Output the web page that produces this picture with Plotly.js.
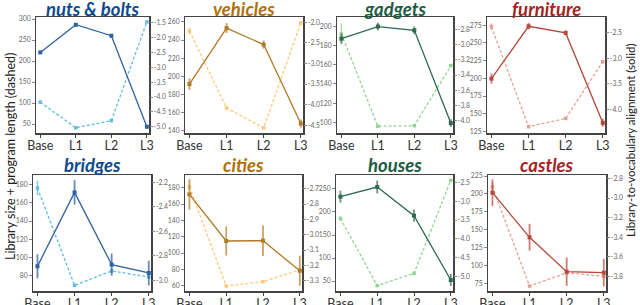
<!DOCTYPE html>
<html><head><meta charset="utf-8">
<script src="https://cdn.plot.ly/plotly-3.0.1.min.js"></script>
<style>html,body{margin:0;padding:0;background:#fff}#chart{width:640px;height:305px}</style>
</head><body><div id="chart"></div>
<script>
const categories = ['Base','L1','L2','L3'];
const panelTitles = ['nuts & bolts','vehicles','gadgets','furniture','bridges','cities','houses','castles'];

// solid: library-to-vocabulary alignment (right axis); dashed: library size + program length (left axis)
const nutsSolid = [-2.50, -1.57, -1.94, -5.00];
const nutsSolidErr = [0.05, 0.05, 0.05, 0.05];
const nutsDashed = [102, 41, 58, 293];
const nutsDashedErr = [2, 2, 2, 2];

const vehiclesSolid = [-3.50, -2.14, -2.54, -4.46];
const vehiclesSolidErr = [0.14, 0.12, 0.10, 0.10];
const vehiclesDashed = [250, 165, 143, 259];
const vehiclesDashedErr = [4, 2, 1, 2];

const gadgetsSolid = [-2.92, -2.76, -2.81, -4.035];
const gadgetsSolidErr = [0.065, 0.05, 0.05, 0.05];
const gadgetsDashed = [192, 96, 96.6, 159];
const gadgetsDashedErr = [11, 1, 1, 1];

const furnitureSolid = [-3.40, -2.37, -2.50, -4.27];
const furnitureSolidErr = [0.10, 0.065, 0.05, 0.08];
const furnitureDashed = [273, 131.6, 143.3, 223.4];
const furnitureDashedErr = [5, 2, 2, 2];

const bridgesSolid = [-2.885, -2.282, -2.872, -2.94];
const bridgesSolidErr = [0.098, 0.10, 0.09, 0.10];
const bridgesDashed = [176, 69.8, 85.5, 78.9];
const bridgesDashedErr = [8, 1, 3, 2];

const citiesSolid = [-2.737, -3.041, -3.039, -3.235];
const citiesSolidErr = [0.10, 0.095, 0.10, 0.098];
const citiesDashed = [181, 59.6, 65, 79.2];
const citiesDashedErr = [2, 1, 1, 1];

const housesSolid = [-2.88, -2.624, -3.383, -5.088];
const housesSolidErr = [0.16, 0.17, 0.16, 0.16];
const housesDashed = [186, 40, 66.7, 268.8];
const housesDashedErr = [4, 1, 1, 1];

const castlesSolid = [-2.946, -3.40, -3.749, -3.759];
const castlesSolidErr = [0.136, 0.137, 0.144, 0.14];
const castlesDashed = [210, 71.3, 89.8, 85.1];
const castlesDashedErr = [6, 1, 1, 1];

const solidSeries = [nutsSolid, vehiclesSolid, gadgetsSolid, furnitureSolid, bridgesSolid, citiesSolid, housesSolid, castlesSolid];
const solidErrs = [nutsSolidErr, vehiclesSolidErr, gadgetsSolidErr, furnitureSolidErr, bridgesSolidErr, citiesSolidErr, housesSolidErr, castlesSolidErr];
const dashedSeries = [nutsDashed, vehiclesDashed, gadgetsDashed, furnitureDashed, bridgesDashed, citiesDashed, housesDashed, castlesDashed];
const dashedErrs = [nutsDashedErr, vehiclesDashedErr, gadgetsDashedErr, furnitureDashedErr, bridgesDashedErr, citiesDashedErr, housesDashedErr, castlesDashedErr];

// tick values of each panel's axes
const leftTicks = [
  [50,100,150,200,250,300],[140,160,180,200,220,240,260],[100,120,140,160,180,200],[125,150,175,200,225,250,275],
  [80,100,120,140,160,180],[60,80,100,120,140,160,180],[50,100,150,200,250],[75,100,125,150,175,200,225]
];
const rightTicks = [
  [-1.5,-2.0,-2.5,-3.0,-3.5,-4.0,-4.5,-5.0],[-2.0,-2.5,-3.0,-3.5,-4.0,-4.5],[-2.8,-3.0,-3.2,-3.4,-3.6,-3.8,-4.0],[-2.5,-3.0,-3.5,-4.0],
  [-2.2,-2.4,-2.6,-2.8,-3.0],[-2.7,-2.8,-2.9,-3.0,-3.1,-3.2,-3.3],[-2.5,-3.0,-3.5,-4.0,-4.5,-5.0],[-2.8,-3.0,-3.2,-3.4,-3.6,-3.8]
];

// styling
const titleColors = ['#0d4a8c','#b26f0c','#1b5c45','#a5241f'];
const solidColors = ['#2f63a0','#b07a26','#2e6a50','#b5473b'];
const dashedColors = ['#62bde0','#fdc878','#92d392','#e4a094'];
const errSolid = ['rgba(47,99,160,0.75)','rgba(176,122,38,0.7)','rgba(46,106,80,0.7)','rgba(181,71,59,0.7)'];
const errDashed = ['rgba(98,189,224,0.8)','rgba(253,200,120,0.8)','rgba(146,211,146,0.8)','rgba(228,160,148,0.8)'];

const W = 640, H = 305;
const boxes = [
  [36,149,17,133],[185,303,17,133],[337,453,17,133],[487,605,17,133],
  [33,151,175,291],[185,302,175,291],[336,453,175,291],[488,606,175,291]
];
const leftRanges = [[28.6,304.8],[137.4,265.5],[89,209.6],[122.7,286.7],[63.6,190.2],[53.5,195.5],[28.3,280.4],[64.4,226.5]];
const rightRanges = [[-5.21,-1.31],[-4.69,-1.87],[-4.166,-2.634],[-4.47,-2.187],[-3.087,-2.14],[-3.367,-2.611],[-5.38,-2.306],[-3.946,-2.766]];

const FONT = 'Lato, Noto Sans, sans-serif';
const traces = [];
const layout = {
  width: W, height: H, margin: {l:0,r:0,t:0,b:0},
  paper_bgcolor: '#fff', plot_bgcolor: '#fff', showlegend: false,
  font: {family: FONT}, annotations: []
};
const tickFont = {family: FONT, size: 6.8, color: '#666'};

for (let i = 0; i < 8; i++) {
  const c = i % 4;
  const n = i + 1;
  const xs = n === 1 ? '' : String(n);
  const b = boxes[i];
  const xd = [b[0]/W, b[1]/W];
  const yd = [1 - b[3]/H, 1 - b[2]/H];
  layout['xaxis' + xs] = {
    domain: xd, anchor: 'y' + xs, range: [-0.12, 3.06], type: 'linear',
    tickvals: [0,1,2,3], ticktext: categories,
    showline: true, mirror: true, linecolor: '#444', linewidth: 1.5,
    ticks: 'outside', ticklen: 3, tickcolor: '#444', showgrid: false, zeroline: false,
    tickfont: {family: FONT, size: 12.5, color: '#333'}, ticklabelstandoff: -3, fixedrange: true
  };
  layout['yaxis' + xs] = {
    domain: yd, anchor: 'x' + xs, range: leftRanges[i],
    tickvals: leftTicks[i], ticktext: leftTicks[i].map(v => String(v)),
    showline: true, mirror: true, linecolor: '#444', linewidth: 1.5,
    ticks: 'outside', ticklen: 2.5, tickcolor: '#888', showgrid: false, zeroline: false,
    tickfont: tickFont, ticklabelstandoff: 0
  };
  const rn = i + 9;
  layout['yaxis' + rn] = {
    overlaying: 'y' + xs, anchor: 'x' + xs, side: 'right',
    range: rightRanges[i], tickvals: rightTicks[i], ticktext: rightTicks[i].map(v => v.toFixed(1)),
    showline: false, ticks: 'outside', ticklen: 2.5, tickcolor: '#888',
    showgrid: false, zeroline: false, tickfont: tickFont, ticklabelstandoff: 0
  };
  traces.push({
    x: [0,1,2,3], y: dashedSeries[i], xaxis: 'x' + xs, yaxis: 'y' + xs,
    type: 'scatter', mode: 'lines+markers',
    line: {color: dashedColors[c], width: 1.3, dash: '3px,2px'},
    marker: {color: dashedColors[c], size: 3.5, symbol: 'square'},
    error_y: {type: 'data', array: dashedErrs[i], visible: true, color: errDashed[c], thickness: 1.5, width: 0}
  });
  traces.push({
    x: [0,1,2,3], y: solidSeries[i], xaxis: 'x' + xs, yaxis: 'y' + rn,
    type: 'scatter', mode: 'lines+markers',
    line: {color: solidColors[c], width: 1.3},
    marker: {color: solidColors[c], size: 4, symbol: 'square'},
    error_y: {type: 'data', array: solidErrs[i], visible: true, color: errSolid[c], thickness: 1.8, width: 0}
  });
  layout.annotations.push({
    text: '<b><i>' + panelTitles[i].replace('&','&amp;') + '</i></b>',
    xref: 'paper', yref: 'paper', x: (xd[0] + xd[1]) / 2, y: yd[1],
    xanchor: 'center', yanchor: 'middle', yshift: (i < 4 ? 8 : 10), showarrow: false,
    font: {family: FONT, size: 18.5, color: titleColors[c]}
  });
}
layout.annotations.push({
  text: 'Library size + program length (dashed)', xref: 'paper', yref: 'paper',
  x: 10/W, y: 1 - 157/H, textangle: -90, showarrow: false, xanchor: 'center', yanchor: 'middle',
  font: {family: FONT, size: 12.5, color: '#222'}
});
layout.annotations.push({
  text: 'Library-to-vocabulary alignment (solid)', xref: 'paper', yref: 'paper',
  x: 630/W, y: 1 - 140/H, textangle: -90, showarrow: false, xanchor: 'center', yanchor: 'middle',
  font: {family: FONT, size: 11.5, color: '#222'}
});

Plotly.newPlot('chart', traces, layout, {staticPlot: true, displayModeBar: false});
</script>
</body></html>
